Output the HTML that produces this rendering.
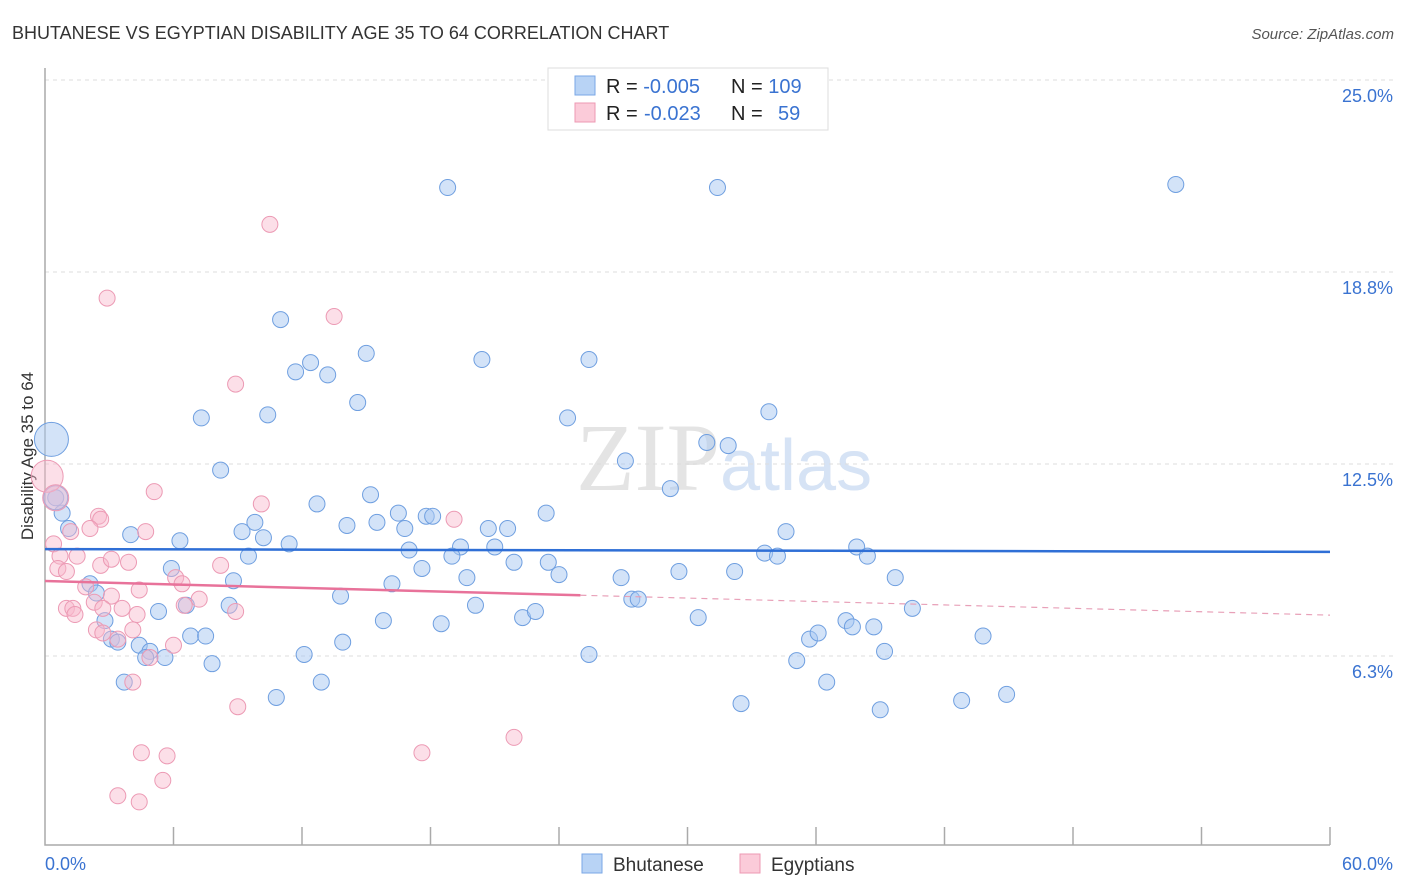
<!DOCTYPE html>
<html><head><meta charset="utf-8"><style>
body{margin:0;background:#fff;font-family:"Liberation Sans",sans-serif}
svg{display:block}
</style></head><body>
<svg id="chart" width="1406" height="892">
<text x="12" y="39" font-size="18" fill="#333">BHUTANESE VS EGYPTIAN DISABILITY AGE 35 TO 64 CORRELATION CHART</text>
<text x="1394" y="39" font-size="15" fill="#555" font-style="italic" text-anchor="end">Source: ZipAtlas.com</text>
<text transform="translate(33,456) rotate(-90)" font-size="17" fill="#333" text-anchor="middle">Disability Age 35 to 64</text>
<text x="720" y="490" font-size="96" fill="#e4e4e4" text-anchor="end" font-family="Liberation Serif">ZIP</text>
<text x="720" y="490" font-size="72" fill="#d6e3f5">atlas</text>
<g id="grid"></g><g id="axes"></g><g id="pts"></g><g id="trend"></g>
<g>
<rect x="548" y="68" width="280" height="62" fill="#fff" stroke="#ddd"/>
<rect x="575" y="76" width="20" height="19" fill="#b8d3f5" stroke="#7aa7e6"/>
<rect x="575" y="103" width="20" height="19" fill="#fbcbd9" stroke="#ee98b3"/>
<text x="606" y="93" font-size="20" fill="#222">R = <tspan fill="#3a73d1">-0.005</tspan><tspan x="731">N = </tspan><tspan fill="#3a73d1">109</tspan></text>
<text x="606" y="120" font-size="20" fill="#222">R = <tspan fill="#3a73d1" x="644">-0.023</tspan><tspan x="731">N = </tspan><tspan fill="#3a73d1" x="778">59</tspan></text>
</g>
<g>
<rect x="582" y="854" width="20" height="19" fill="#b8d3f5" stroke="#7aa7e6"/>
<text x="613" y="871" font-size="19" fill="#333">Bhutanese</text>
<rect x="740" y="854" width="20" height="19" fill="#fbcbd9" stroke="#ee98b3"/>
<text x="771" y="871" font-size="19" fill="#333">Egyptians</text>
</g>
</svg>
<script>
const yTicks=[6.25,12.5,18.75,25];
const yTickLabels=["6.3%","12.5%","18.8%","25.0%"];
const xTickLabels=["0.0%","60.0%"];
const blueX=[18.8,31.4,52.8,11.0,12.4,11.7,13.2,15.0,20.4,25.4,14.6,7.3,10.4,24.4,33.8,30.9,31.9,27.1,29.2,8.2,0.5,4.0,6.3,9.2,9.8,10.2,11.4,12.7,14.1,15.2,15.5,16.5,16.8,17.0,17.8,18.1,19.4,19.0,20.7,21.6,21.0,23.4,21.9,23.5,24.0,19.7,17.6,16.2,13.8,8.8,9.5,5.9,6.6,8.6,2.1,2.4,2.8,3.1,3.4,4.4,4.9,4.7,5.6,5.3,6.8,7.5,7.8,3.7,10.8,12.1,12.9,13.9,15.8,18.5,20.1,22.3,22.9,25.4,26.9,27.4,27.7,29.6,30.5,32.2,32.5,33.6,34.2,34.6,35.1,35.7,36.1,36.5,37.4,37.7,37.9,38.4,38.7,39.0,39.2,39.7,40.5,42.8,43.8,44.9,0.8,1.1];
const blueY=[21.5,21.5,21.6,17.2,15.8,15.5,15.4,16.1,15.9,15.9,14.5,14.0,14.1,14.0,14.2,13.2,13.1,12.6,11.7,12.3,11.4,10.2,10.0,10.3,10.6,10.1,9.9,11.2,10.5,11.5,10.6,10.9,10.4,9.7,10.8,10.8,9.8,9.5,10.4,10.4,9.8,10.9,9.3,9.3,8.9,8.8,9.1,8.6,8.2,8.7,9.5,9.1,7.9,7.9,8.6,8.3,7.4,6.8,6.7,6.6,6.4,6.2,6.2,7.7,6.9,6.9,6.0,5.4,4.9,6.3,5.4,6.7,7.4,7.3,7.9,7.5,7.7,6.3,8.8,8.1,8.1,9.0,7.5,9.0,4.7,9.6,9.5,10.3,6.1,6.8,7.0,5.4,7.4,7.2,9.8,9.5,7.2,4.5,6.4,8.8,7.8,4.8,6.9,5.0,10.9,10.4];
const blueSize=[];
const bigBlueX=[0.3],bigBlueY=[13.3],bigBlueR=[17];
const pinkX=[10.5,2.9,13.5,8.9,5.1,10.1,19.1,2.5,2.6,2.1,4.7,1.2,0.4,0.7,1.5,0.6,1.0,2.6,3.1,3.9,8.2,6.1,6.4,4.4,1.9,2.3,3.1,7.2,6.5,1.0,1.3,1.4,2.7,3.6,4.3,8.9,2.4,2.7,4.1,3.4,6.0,4.9,4.1,9.0,4.5,5.7,5.5,3.4,4.4,17.6,21.9];
const pinkY=[20.3,17.9,17.3,15.1,11.6,11.2,10.7,10.8,10.7,10.4,10.3,10.3,9.9,9.5,9.5,9.1,9.0,9.2,9.4,9.3,9.2,8.8,8.6,8.4,8.5,8.0,8.2,8.1,7.9,7.8,7.8,7.6,7.8,7.8,7.6,7.7,7.1,7.0,7.1,6.8,6.6,6.2,5.4,4.6,3.1,3.0,2.2,1.7,1.5,3.1,3.6];
const bigPinkX=[0.1,0.5],bigPinkY=[12.1,11.4],bigPinkR=[16,13];
const blueTrend=[9.73,9.64];
const pinkTrend=[8.69,7.58];
const pinkSolidEnd=25;

const X0=45,X1=1330,Y0=848,Y25=80;
const sx=v=>X0+(v/60)*(X1-X0);
const sy=v=>Y0-(v/25)*(Y0-Y25);
const NS="http://www.w3.org/2000/svg";
function mk(tag,attrs,parent){const e=document.createElementNS(NS,tag);for(const k in attrs)e.setAttribute(k,attrs[k]);parent.appendChild(e);return e;}
const grid=document.getElementById('grid'),axes=document.getElementById('axes'),pts=document.getElementById('pts'),trend=document.getElementById('trend');
yTicks.forEach((t,i)=>{
  const l=mk('line',{x1:X0,x2:1394,y1:sy(t),y2:sy(t),stroke:'#ddd','stroke-dasharray':'4,4'},grid);
  
  
  const tx=mk('text',{x:1393,y:sy(t)+22,'font-size':18,fill:'#3a73d1','text-anchor':'end'},grid);
  tx.textContent=yTickLabels[i];
  
  
});
const ax=mk('path',{d:`M${X0} 68V845H${X1}`,fill:'none',stroke:'#aaa','stroke-width':1.5},axes);


for(let i=1;i<=10;i++){
  const t=mk('line',{x1:sx(i*6),x2:sx(i*6),y1:827,y2:845,stroke:'#aaa','stroke-width':1.5},axes);
  
  
}
[[0,'start'],[60,'end']].forEach((p,i)=>{
  const tx=mk('text',{x:sx(p[0])+(i?63:0),y:870,'font-size':18,fill:'#3a73d1','text-anchor':p[1]},axes);
  tx.textContent=xTickLabels[i];
  
  
});
function dot(x,y,r,pink){
  const c=mk('circle',{cx:sx(x),cy:sy(y),r:r,fill:pink?'rgba(248,184,204,0.45)':'rgba(168,199,242,0.5)',stroke:pink?'#ec9ab4':'#6f9fe0','stroke-width':1},pts);
  
  
}
blueX.forEach((x,i)=>dot(x,blueY[i],8,false));
bigBlueX.forEach((x,i)=>dot(x,bigBlueY[i],bigBlueR[i],false));
dot(0.5,11.4,12,false);
pinkX.forEach((x,i)=>dot(x,pinkY[i],8,true));
bigPinkX.forEach((x,i)=>dot(x,bigPinkY[i],bigPinkR[i],true));
const bl=mk('line',{x1:sx(0),x2:sx(60),y1:sy(blueTrend[0]),y2:sy(blueTrend[1]),stroke:'#2f6fd6','stroke-width':2.5},trend);


const pm=pinkTrend[0]+(pinkTrend[1]-pinkTrend[0])*pinkSolidEnd/60;
const ps=mk('line',{x1:sx(0),x2:sx(pinkSolidEnd),y1:sy(pinkTrend[0]),y2:sy(pm),stroke:'#e8729a','stroke-width':2.5},trend);


const pd=mk('line',{x1:sx(pinkSolidEnd),x2:sx(60),y1:sy(pm),y2:sy(pinkTrend[1]),stroke:'#e8a0b8','stroke-width':1.2,'stroke-dasharray':'6,5'},trend);


</script>
</body></html>
